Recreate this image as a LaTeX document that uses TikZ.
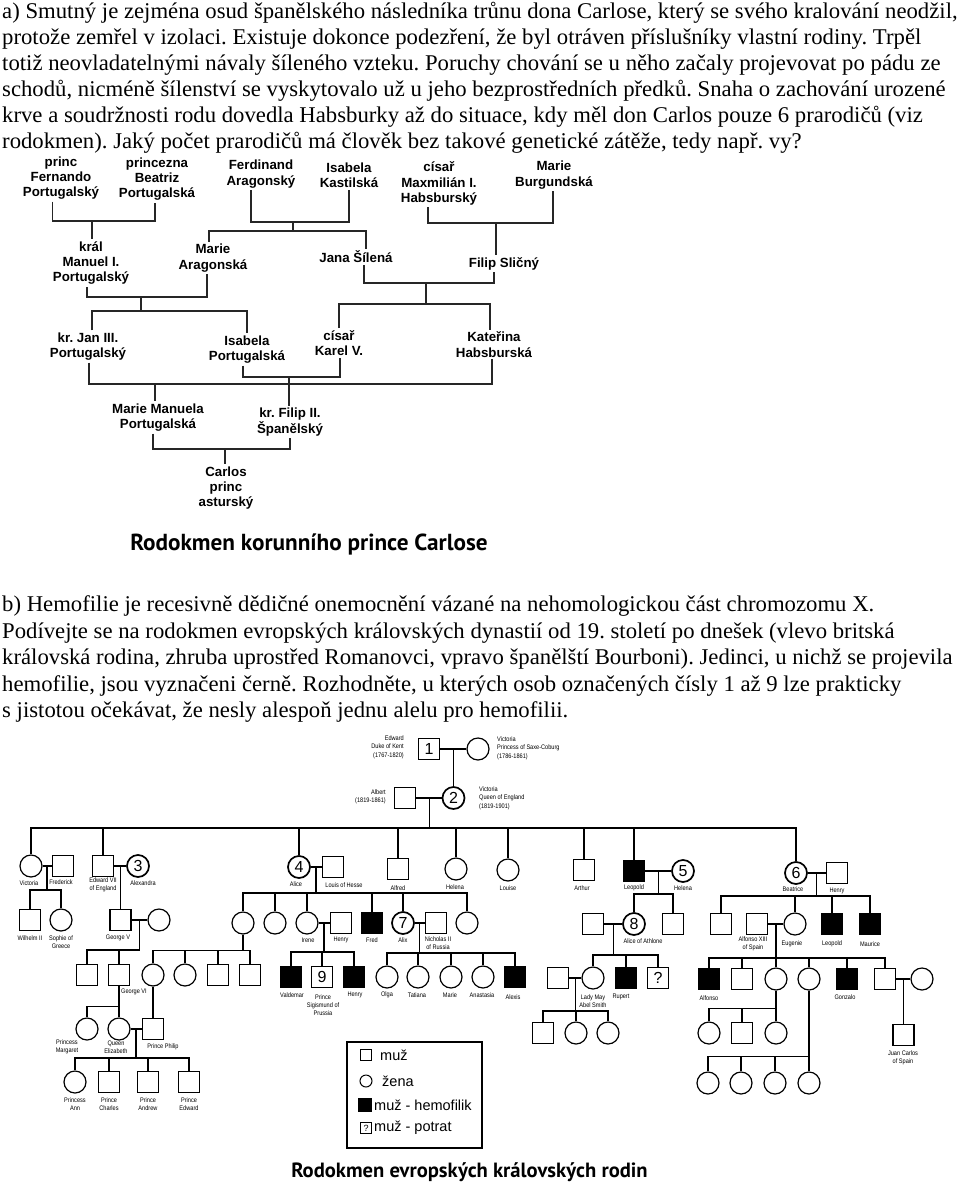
\documentclass[tikz,border=0pt]{standalone}
\usepackage{fontspec}
\setmainfont{Liberation Serif}
\newfontfamily\bodyserif[FakeStretch=1.01]{Liberation Serif}
\newfontfamily\arialfont{Liberation Sans}
\newfontfamily\uzkyfont[FakeStretch=0.85]{Liberation Sans}
\newfontfamily\nadpis{PT Sans}
\usetikzlibrary{calc}
\newcommand\telofont{\bodyserif\fontsize{22.5}{26}\selectfont}
\newcommand\stromfont{\arialfont\bfseries\fontsize{13.3}{15.3}\selectfont}
\newcommand\popisfont{\uzkyfont\fontsize{6.6}{8.3}\selectfont}
\newcommand\cislofont{\arialfont\fontsize{16}{16}\selectfont}
\newcommand\legendafont{\arialfont\fontsize{14.5}{15}\selectfont}
\newcommand\nadpisAfont{\nadpis\bfseries\fontsize{23.2}{26}\selectfont}
\newcommand\nadpisBfont{\nadpis\bfseries\fontsize{20.6}{24}\selectfont}
\tikzset{
  radek/.style={anchor=base west, inner sep=0pt, font=\telofont},
  osoba/.style={font=\stromfont, align=center, inner sep=2pt},
  linka/.style={line width=1.5pt, black!85},
  muz/.style={draw, rectangle, minimum size=21pt, inner sep=0pt, line width=1.2pt, font=\cislofont},
  zena/.style={draw, circle, minimum size=22pt, inner sep=0pt, line width=1.2pt, font=\cislofont},
  hemo/.style={muz, fill=black},
  oznac/.style={line width=1.7pt},
  vazba/.style={line width=1.2pt},
  popis/.style={font=\popisfont, align=center, inner sep=0pt},
}
\begin{document}
\frenchspacing
\begin{tikzpicture}[x=1pt,y=-1pt]
\useasboundingbox (0,0) rectangle (960,1192);

%%%%% TEXT a) %%%%%
\node[radek] (ta1) at (2,18) {a) Smutný je zejména osud španělského následníka trůnu dona Carlose, který se svého kralování neodžil,};
\node[radek] (ta2) at (2,44) {protože zemřel v izolaci. Existuje dokonce podezření, že byl otráven příslušníky vlastní rodiny. Trpěl};
\node[radek] (ta3) at (2,70) {totiž neovladatelnými návaly šíleného vzteku. Poruchy chování se u něho začaly projevovat po pádu ze};
\node[radek] (ta4) at (2,96) {schodů, nicméně šílenství se vyskytovalo už u jeho bezprostředních předků. Snaha o zachování urozené};
\node[radek] (ta5) at (2,122) {krve a soudržnosti rodu dovedla Habsburky až do situace, kdy měl don Carlos pouze 6 prarodičů (viz};
\node[radek] (ta6) at (2,148) {rodokmen). Jaký počet prarodičů má člověk bez takové genetické zátěže, tedy např. vy?};

%%%%% RODOKMEN CARLOSE %%%%%
\node[osoba] (fernando) at (61,178) {princ\\Fernando\\Portugalský};
\node[osoba] (beatriz) at (157,179) {princezna\\Beatriz\\Portugalská};
\node[osoba] (ferdinand) at (261,174) {Ferdinand\\Aragonský};
\node[osoba] (isabelaK) at (349,175.5) {Isabela\\Kastilská};
\node[osoba] (maxmilian) at (439,183.5) {císař\\Maxmilián I.\\Habsburský};
\node[osoba] (marieB) at (554,175) {Marie\\Burgundská};

\node[osoba] (manuel) at (91,263) {král\\Manuel I.\\Portugalský};
\node[osoba] (marieA) at (213,258) {Marie\\Aragonská};
\node[osoba] (jana) at (356,257) {Jana Šílená};
\node[osoba] (filipS) at (504,263.5) {Filip Sličný};

\node[osoba] (jan) at (88,346.5) {kr. Jan III.\\Portugalský};
\node[osoba] (isabelaP) at (247,349.5) {Isabela\\Portugalská};
\node[osoba] (karel) at (339,343) {císař\\Karel V.};
\node[osoba] (katerina) at (494,344.5) {Kateřina\\Habsburská};

\node[osoba] (manuela) at (158,417.5) {Marie Manuela\\Portugalská};
\node[osoba] (filip2) at (290,422) {kr. Filip II.\\Španělský};

\node[osoba] (carlos) at (226,488) {Carlos\\princ\\asturský};

% konce car pod jmeny
\coordinate (fer-d) at ([xshift=-8.5pt]fernando.south);
\coordinate (bea-d) at ([xshift=-2pt]beatriz.south);
\coordinate (frd-d) at ([xshift=-10pt]ferdinand.south);
\coordinate (isk-d) at (isabelaK.south);
\coordinate (max-d) at ([xshift=-11pt]maxmilian.south);
\coordinate (mab-d) at ([xshift=-1pt]marieB.south);
\coordinate (man-d) at ([xshift=-4pt]manuel.south);
\coordinate (maa-d) at ([xshift=-6pt]marieA.south);
\coordinate (jna-d) at ([xshift=8pt]jana.south);
\coordinate (fls-d) at ([xshift=-10pt]filipS.south);
\coordinate (jan-d) at ([xshift=1pt]jan.south);
\coordinate (kat-d) at ([xshift=-2pt]katerina.south);
\coordinate (isp-d) at ([xshift=-4pt]isabelaP.south);
\coordinate (kar-d) at ([xshift=1pt]karel.south);
\coordinate (mmp-d) at ([xshift=-5pt]manuela.south);
\coordinate (fl2-d) at (filip2.south);

\coordinate (rod1) at (92,221);
\coordinate (rod2) at (293,222);
\coordinate (rod3) at (496,223);
\coordinate (rod4) at (141,297);
\coordinate (rod5) at (426,283);
\coordinate (rod7) at (155,384);
\coordinate (rod8) at (289,377);
\coordinate (rod9) at (225,449);

\draw[linka] (fer-d) |- (rod1) -| (bea-d);
\draw[linka] (rod1) -- (rod1 |- manuel.north);

\draw[linka] (frd-d) |- (rod2) -| (isk-d);
\draw[linka] (rod2) -- ++(0,9) coordinate (rod2b);
\coordinate (maa-u) at ([xshift=-4pt]marieA.north);
\coordinate (jna-u) at ([xshift=10pt]jana.north);
\draw[linka] (maa-u) |- (rod2b) -| (jna-u);

\draw[linka] (max-d) |- (rod3) -| (mab-d);
\draw[linka] (rod3) -- (rod3 |- filipS.north);

\draw[linka] (man-d) |- (rod4) -| (maa-d);
\draw[linka] (rod4) -- ++(0,14) coordinate (rod4b);
\coordinate (jan-u) at ([xshift=4pt]jan.north);
\draw[linka] (jan-u) |- (rod4b) -| (isabelaP.north);

\draw[linka] (jna-d) |- (rod5) -| (fls-d);
\draw[linka] (rod5) -- ++(0,21) coordinate (rod5b);
\coordinate (kat-u) at ([xshift=-4pt]katerina.north);
\draw[linka] (karel.north) |- (rod5b) -| (kat-u);

\draw[linka] (jan-d) |- (rod7) -| (kat-d);
\draw[linka] (rod7) -- (rod7 |- manuela.north);
\draw[linka] (isp-d) |- (rod8) -| (kar-d);
\draw[linka] (rod8) -- (rod8 |- filip2.north);

\draw[linka] (mmp-d) |- (rod9) -| (fl2-d);
\draw[linka] (rod9) -- (rod9 |- carlos.north);

\node[font=\nadpisAfont] (titulA) at (309,544) {Rodokmen korunního prince Carlose};

%%%%% TEXT b) %%%%%
\node[radek] (tb1) at (2,611) {b) Hemofilie je recesivně dědičné onemocnění vázané na nehomologickou část chromozomu X.};
\node[radek] (tb2) at (2,638) {Podívejte se na rodokmen evropských královských dynastií od 19. století po dnešek (vlevo britská};
\node[radek] (tb3) at (2,664) {královská rodina, zhruba uprostřed Romanovci, vpravo španělští Bourboni). Jedinci, u nichž se projevila};
\node[radek] (tb4) at (2,691) {hemofilie, jsou vyznačeni černě. Rozhodněte, u kterých osob označených čísly 1 až 9 lze prakticky};
\node[radek] (tb5) at (2,717) {s~jistotou očekávat, že nesly alespoň jednu alelu pro hemofilii.};

%%%%% RODOKMEN KRALOVSKYCH RODIN %%%%%
% I
\node[muz] (edward) at (429,749) {1};
\node[zena] (vpc) at (478,749) {};
\node[popis, anchor=east, align=right] (t-edward) at (404,747) {Edward\\Duke of Kent\\(1767-1820)};
\node[popis, anchor=west, align=left] (t-vpc) at (497,748) {Victoria\\Princess of Saxe-Coburg\\(1786-1861)};
\draw[vazba] (edward) -- (vpc);
\coordinate (m-ev) at ($(edward)!.5!(vpc)$);

% II
\node[zena, oznac] (vq) at (453.5,798) {2};
\node[muz] (albert) at (405,798) {};
\node[popis, anchor=east, align=right] (t-albert) at (386,797) {Albert\\(1819-1861)};
\node[popis, anchor=west, align=left] (t-vq) at (479,798) {Victoria\\Queen of England\\(1819-1901)};
\draw[vazba] (m-ev) -- (vq);
\draw[vazba] (albert) -- (vq);
\coordinate (m-av) at ($(albert)!.5!(vq)$);

% III
\node[zena] (vic) at (31,866) {};
\node[muz] (fred) at (63,866) {};
\node[muz] (ed7) at (103,866) {};
\node[zena, oznac] (alx) at (138,866) {3};
\node[zena, oznac] (ali) at (299,867) {4};
\node[muz] (lou) at (333,867) {};
\node[muz] (alf) at (398,869) {};
\node[zena] (hel) at (456,869) {};
\node[zena] (lis) at (508,870) {};
\node[muz] (art) at (584,870) {};
\node[hemo] (leo) at (634,871) {};
\node[zena, oznac] (hln) at (683,871) {5};
\node[zena, oznac] (bea) at (796,873) {6};
\node[muz] (hen) at (837,873) {};

\node[popis] (t-vic) at (29,883) {Victoria};
\node[popis] (t-fred) at (61,882) {Frederick};
\node[popis] (t-ed7) at (103,885) {Edward VII\\of England};
\node[popis] (t-alx) at (143,883) {Alexandra};
\node[popis] (t-ali) at (296,884) {Alice};
\node[popis] (t-lou) at (344,885) {Louis of Hesse};
\node[popis] (t-alf) at (398,888) {Alfred};
\node[popis] (t-hel) at (455,887) {Helena};
\node[popis] (t-lis) at (508,888) {Louise};
\node[popis] (t-art) at (582,888) {Arthur};
\node[popis] (t-leo) at (634,888) {Leopold};
\node[popis] (t-hln) at (683,888) {Helena};
\node[popis] (t-bea) at (793,889) {Beatrice};
\node[popis] (t-hen) at (837,891) {Henry};

\draw[vazba] (m-av) -- ++(0,30) coordinate (k-av);
\foreach \d in {vic,ed7,ali,alf,hel,lis,art,leo,bea}
  \draw[vazba] (k-av) -| (\d);

\draw[vazba] (vic) -- (fred);
\draw[vazba] (ed7) -- (alx);
\draw[vazba] (ali) -- (lou);
\draw[vazba] (leo) -- (hln);
\draw[vazba] (bea) -- (hen);
\coordinate (m-vf) at ($(vic)!.5!(fred)$);
\coordinate (m-ea) at ($(ed7)!.5!(alx)$);
\coordinate (m-al) at ($(ali)!.5!(lou)$);
\coordinate (m-lh) at ($(leo)!.5!(hln)$);
\coordinate (m-bh) at ($(bea)!.5!(hen)$);

% IV
\node[muz] (wil) at (30,920) {};
\node[zena] (sop) at (61,920) {};
\node[muz] (geo5) at (120.5,920) {};
\node[zena] (mary) at (159,920) {};
\node[zena] (a1) at (243,923) {};
\node[zena] (a2) at (275,923) {};
\node[zena] (ire) at (307,923) {};
\node[muz] (hry) at (341,923) {};
\node[hemo] (frd) at (372,923) {};
\node[zena, oznac] (alx7) at (403,923) {7};
\node[muz] (nic) at (436,923) {};
\node[zena] (a6) at (467,923) {};
\node[muz] (ahu) at (593,924) {};
\node[zena, oznac] (ath) at (634,924) {8};
\node[muz] (lc2) at (673,924) {};
\node[muz] (b1) at (721,924) {};
\node[muz] (alfo) at (757,924) {};
\node[zena] (eug) at (795,924) {};
\node[hemo] (leo2) at (832,924) {};
\node[hemo] (mau) at (870,924) {};

\node[popis] (t-wil) at (30,938) {Wilhelm II};
\node[popis] (t-sop) at (61,942) {Sophie of\\Greece};
\node[popis] (t-geo5) at (118,938) {George V};
\node[popis] (t-ire) at (308,940) {Irene};
\node[popis] (t-hry) at (341,940) {Henry};
\node[popis] (t-frd) at (372,940) {Fred};
\node[popis] (t-alx7) at (403,940) {Alix};
\node[popis] (t-nic) at (438,943) {Nicholas II\\of Russia};
\node[popis] (t-ath) at (643,941) {Alice of Athlone};
\node[popis] (t-alfo) at (753,944) {Alfonso XIII\\of Spain};
\node[popis] (t-eug) at (792,944) {Eugenie};
\node[popis] (t-leo2) at (832,944) {Leopold};
\node[popis] (t-mau) at (870,944) {Maurice};

\draw[vazba] (m-vf) -- ++(0,24) coordinate (k-vf);
\draw[vazba] (k-vf) -| (wil);
\draw[vazba] (k-vf) -| (sop);
\draw[vazba] (m-ea) -- (geo5);
\draw[vazba] (m-al) -- ++(0,26) coordinate (k-al);
\foreach \d in {a1,a2,ire,frd,alx7,a6}
  \draw[vazba] (k-al) -| (\d);
\draw[vazba] (m-lh) -- ++(0,23) coordinate (k-lh);
\draw[vazba] (k-lh) -| (ath);
\draw[vazba] (k-lh) -| (lc2);
\draw[vazba] (m-bh) -- ++(0,23) coordinate (k-bh);
\foreach \d in {b1,eug,leo2,mau}
  \draw[vazba] (k-bh) -| (\d);

\draw[vazba] (geo5) -- (mary);
\draw[vazba] (ire) -- (hry);
\draw[vazba] (alx7) -- (nic);
\draw[vazba] (ahu) -- (ath);
\draw[vazba] (alfo) -- (eug);
\coordinate (m-gm) at ($(geo5)!.5!(mary)$);
\coordinate (m-ih) at ($(ire)!.5!(hry)$);
\coordinate (m-an) at ($(alx7)!.5!(nic)$);
\coordinate (m-at) at ($(ahu)!.5!(ath)$);
\coordinate (m-ae) at ($(alfo)!.5!(eug)$);

% V
\node[muz] (g1) at (87,975) {};
\node[muz] (geo6) at (119,975) {};
\node[zena] (ala) at (153,975) {};
\node[zena] (c2) at (185,975) {};
\node[muz] (c3) at (218,975) {};
\node[muz] (c4) at (250,975) {};
\node[hemo] (wal) at (291,977) {};
\node[muz] (sig) at (322,977) {9};
\node[hemo] (hnr) at (354,977) {};
\node[zena] (olg) at (387,977) {};
\node[zena] (tat) at (418,977) {};
\node[zena] (mar) at (451,977) {};
\node[zena] (ana) at (483,977) {};
\node[hemo] (alex) at (515,977) {};
\node[muz] (mhu) at (558,978) {};
\node[zena] (may) at (593,978) {};
\node[hemo] (rup) at (626,978) {};
\node[muz] (q) at (658,978) {?};
\node[hemo] (alfn) at (709,979) {};
\node[muz] (e2) at (742,979) {};
\node[zena] (e3) at (776,979) {};
\node[zena] (e4) at (809,979) {};
\node[hemo] (gon) at (847,979) {};
\node[muz] (e6) at (885,979) {};
\node[zena] (e6z) at (922,979) {};

\node[popis] (t-geo6) at (134,992) {George VI};
\node[popis] (t-wal) at (292,995) {Valdemar};
\node[popis] (t-sig) at (323,1005) {Prince\\Sigismund of\\Prussia};
\node[popis] (t-hnr) at (355,995) {Henry};
\node[popis] (t-olg) at (387,995) {Olga};
\node[popis] (t-tat) at (417,995) {Tatiana};
\node[popis] (t-mar) at (450,995) {Marie};
\node[popis] (t-ana) at (482,995) {Anastasia};
\node[popis] (t-alex) at (513,997) {Alexis};
\node[popis] (t-may) at (593,1001) {Lady May\\Abel Smith};
\node[popis] (t-rup) at (621,997) {Rupert};
\node[popis] (t-alfn) at (709,998) {Alfonso};
\node[popis] (t-gon) at (845,997) {Gonzalo};

\draw[vazba] (m-gm) -- ++(0,30) coordinate (k-gm);
\draw[vazba] (k-gm) -| (g1);
\draw[vazba] (k-gm) -| (geo6);
\draw[vazba] (a1.south) -- ++(0,16) coordinate (k-a1);
\foreach \d in {ala,c2,c3,c4}
  \draw[vazba] (k-a1) -| (\d);
\draw[vazba] (m-ih) -- ++(0,29) coordinate (k-ih);
\foreach \d in {wal,sig,hnr}
  \draw[vazba] (k-ih) -| (\d);
\draw[vazba] (m-an) -- ++(0,30) coordinate (k-an);
\foreach \d in {olg,tat,mar,ana,alex}
  \draw[vazba] (k-an) -| (\d);
\draw[vazba] (m-at) -- ++(0,31) coordinate (k-at);
\foreach \d in {may,rup,q}
  \draw[vazba] (k-at) -| (\d);
\draw[vazba] (m-ae) -- ++(0,34) coordinate (k-ae);
\foreach \d in {alfn,e2,e3,e4,gon,e6}
  \draw[vazba] (k-ae) -| (\d);

\draw[vazba] (mhu) -- (may);
\draw[vazba] (e6) -- (e6z);
\coordinate (m-mm) at ($(mhu)!.5!(may)$);
\coordinate (m-ee) at ($(e6)!.5!(e6z)$);

% VI
\node[zena] (mrg) at (87,1029) {};
\node[zena] (eli) at (119,1029) {};
\node[muz] (phi) at (153,1029) {};
\node[muz] (y1) at (543,1033) {};
\node[zena] (y2) at (576,1033) {};
\node[zena] (y3) at (608,1033) {};
\node[zena] (f1) at (709,1033) {};
\node[muz] (f2) at (742,1033) {};
\node[zena] (f3) at (776,1033) {};
\node[muz] (jc) at (903.5,1035) {};
\node[zena] (h1) at (708,1083) {};
\node[zena] (h2) at (741,1083) {};
\node[zena] (h3) at (775,1083) {};
\node[zena] (h4) at (809,1083) {};

\node[popis] (t-mrg) at (67,1047) {Princess\\Margaret};
\node[popis] (t-eli) at (116,1047) {Queen\\Elizabeth};
\node[popis] (t-phi) at (163,1047) {Prince Philip};
\node[popis] (t-jc) at (903,1058) {Juan Carlos\\of Spain};

\draw[vazba] (geo6.south) -- ++(0,20) coordinate (k-g6);
\draw[vazba] (k-g6) -| (mrg);
\draw[vazba] (k-g6) -- (eli);
\draw[vazba] (ala) -- (phi);
\draw[vazba] (m-mm) -- ++(0,33) coordinate (k-mm);
\foreach \d in {y1,y2,y3}
  \draw[vazba] (k-mm) -| (\d);
\draw[vazba] (e3.south) -- ++(0,18) coordinate (k-e3);
\foreach \d in {f1,f2,f3}
  \draw[vazba] (k-e3) -| (\d);
\draw[vazba] (e4.south) -- ++(0,66) coordinate (k-e4);
\foreach \d in {h1,h2,h3,h4}
  \draw[vazba] (k-e4) -| (\d);
\draw[vazba] (m-ee) -- (jc);

\draw[vazba] (eli) -- (phi);
\coordinate (m-ep) at ($(eli)!.5!(phi)$);

% VII
\node[zena] (ann) at (75,1082) {};
\node[muz] (cha) at (109,1082) {};
\node[muz] (and) at (148,1082) {};
\node[muz] (edw) at (189,1082) {};
\node[popis] (t-ann) at (75,1104) {Princess\\Ann};
\node[popis] (t-cha) at (109,1104) {Prince\\Charles};
\node[popis] (t-and) at (148,1104) {Prince\\Andrew};
\node[popis] (t-edw) at (189,1104) {Prince\\Edward};
\draw[vazba] (m-ep) -- ++(0,29) coordinate (k-ep);
\foreach \d in {ann,cha,and,edw}
  \draw[vazba] (k-ep) -| (\d);

% legenda
\node[draw, line width=1.2pt, minimum width=135pt, minimum height=106pt, inner sep=0pt] (legenda) at (414.5,1095) {};
\node[draw, minimum size=11pt, inner sep=0pt, line width=1pt] (lg-muz) at (366,1055) {};
\node[draw, circle, minimum size=12pt, inner sep=0pt, line width=1pt] (lg-zena) at (366,1081) {};
\node[draw, fill=black, minimum size=13pt, inner sep=0pt] (lg-hemo) at (365,1105) {};
\node[draw, minimum size=11pt, inner sep=0pt, line width=0.8pt, font=\arialfont\fontsize{9}{9}\selectfont] (lg-potrat) at (366,1128) {?};
\node[anchor=west, font=\legendafont, inner sep=0pt] (tl-muz) at (380,1055) {muž};
\node[anchor=west, font=\legendafont, inner sep=0pt] (tl-zena) at (382,1081) {žena};
\node[anchor=west, font=\legendafont, inner sep=0pt] (tl-hemo) at (374,1105) {muž - hemofilik};
\node[anchor=west, font=\legendafont, inner sep=0pt] (tl-potrat) at (374,1128) {muž - potrat};

\node[font=\nadpisBfont] (titulB) at (469.5,1172) {Rodokmen evropských královských rodin};
\end{tikzpicture}
\end{document}
